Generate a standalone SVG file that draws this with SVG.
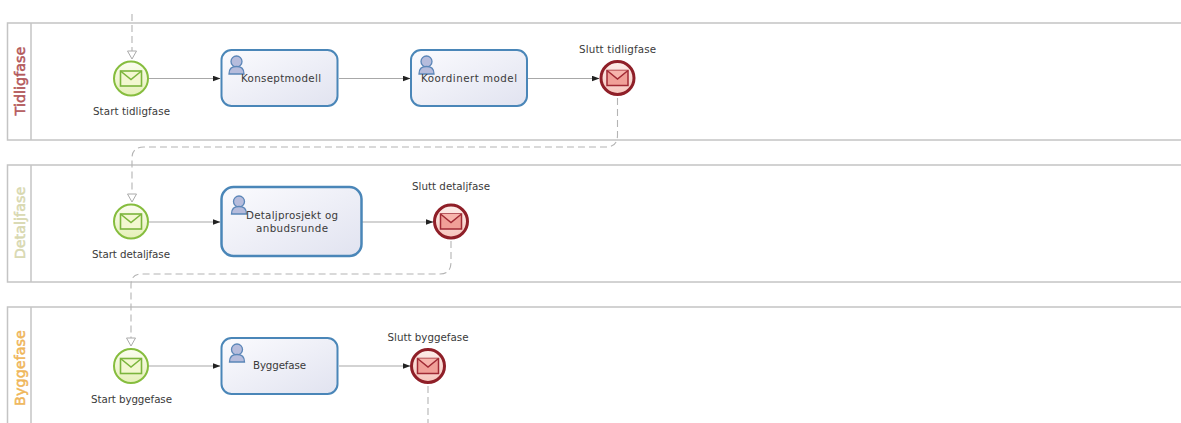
<svg xmlns="http://www.w3.org/2000/svg" width="1181" height="423" viewBox="0 0 1181 423">
<style>
text{font-family:"DejaVu Sans","Liberation Sans",sans-serif;font-size:10.300px;fill:#3a3a3a;text-anchor:middle}
.lane{fill:#fff;stroke:#c4c4c4;stroke-width:1.5}
.lt{font-size:14.400px;stroke-width:0.500}
.task{stroke:#4a86b8;stroke-width:2;fill:url(#tg)}
.seq{fill:none;stroke:#a8a8a8;stroke-width:1.100;marker-end:url(#ah)}
.msg{fill:none;stroke:#b4b4b4;stroke-width:1.100;stroke-dasharray:7 4}
.mh{fill:#fff;stroke:#aaa;stroke-width:1}
</style>
<defs>
<linearGradient id="tg" x1="0" y1="0" x2="1" y2="1"><stop offset="0" stop-color="#fbfbfe"/><stop offset="1" stop-color="#e1e3f0"/></linearGradient>
<linearGradient id="sg" x1="0" y1="0" x2="0" y2="1"><stop offset="0" stop-color="#fbfdf0"/><stop offset="1" stop-color="#e6f0b8"/></linearGradient>
<linearGradient id="eg" x1="0" y1="0" x2="0" y2="1"><stop offset="0" stop-color="#fdeeea"/><stop offset="1" stop-color="#f6c4bc"/></linearGradient>
<marker id="ah" markerWidth="8" markerHeight="6" refX="7.500" refY="3" orient="auto" markerUnits="userSpaceOnUse"><path d="M0 0L8 3L0 6Z" fill="#222"/></marker>
<g id="user"><circle cx="0" cy="-3.500" r="5.500" fill="#b6bcdc" stroke="#5b86b8" stroke-width="1.300"/><path d="M-7.500 9C-7.500 3 -4 1.500 0 1.500C4 1.500 7.500 3 7.500 9Z" fill="#b6bcdc" stroke="#5b86b8" stroke-width="1.300"/></g>
<g id="start"><circle r="17" fill="url(#sg)" stroke="#86bd3e" stroke-width="2"/><rect x="-10.500" y="-7.500" width="21" height="15" fill="#f3f7d0" stroke="#7cb53c" stroke-width="1.600"/><path d="M-10.500 -7.500L0 1L10.500 -7.500" fill="none" stroke="#7cb53c" stroke-width="1.600"/></g>
<g id="end"><circle r="16.500" fill="url(#eg)" stroke="#8f1f28" stroke-width="3"/><rect x="-10.500" y="-7.500" width="21" height="15" fill="#f0a098" stroke="#a02a34" stroke-width="1.500"/><path d="M-10.500 -7.500L0 1L10.500 -7.500" fill="#f6b4ac" stroke="#a02a34" stroke-width="1.500"/></g>
</defs>

<g id="lane-tidligfase"><rect class="lane" x="7.500" y="23" width="1180" height="117"/><path class="lane" d="M31 23V140"/><text class="lt" transform="translate(24.500 81) rotate(-90)" style="fill:#b3575a;stroke:#b3575a">Tidligfase</text></g>
<g id="lane-detaljfase"><rect class="lane" x="7.500" y="165" width="1180" height="117"/><path class="lane" d="M31 165V282"/><text class="lt" transform="translate(24.500 223) rotate(-90)" style="fill:#d8d8b0;stroke:#d8d8b0">Detaljfase</text></g>
<g id="lane-byggefase"><rect class="lane" x="7.500" y="307" width="1180" height="130"/><path class="lane" d="M31 307V437"/><text class="lt" transform="translate(24.500 368) rotate(-90)" style="fill:#efb65a;stroke:#efb65a">Byggefase</text></g>

<g id="connectors">
<path class="seq" d="M149 78.500H220"/>
<path class="seq" d="M339 78.500H410"/>
<path class="seq" d="M528 78.500H599"/>
<path class="seq" d="M149 222H220"/>
<path class="seq" d="M362 222H433"/>
<path class="seq" d="M149 366H220"/>
<path class="seq" d="M339 366H410"/>
<path class="msg" d="M132 14V51"/><path class="mh" d="M127.500 51H136.500L132 59Z"/>
<path class="msg" d="M617.500 98V135Q617.500 147 606 147H144Q132 147 132 158V193"/><path class="mh" d="M127.500 194H136.500L132 202Z"/>
<path class="msg" d="M451 241V262Q451 274 440 274H141Q131 274 131 285V338"/><path class="mh" d="M126.500 338H135.500L131 346Z"/>
<path class="msg" d="M428 386V423"/>
</g>

<g id="start-tidligfase"><use href="#start" x="131" y="78.500"/><text x="131.500" y="114.500" textLength="77">Start tidligfase</text></g>
<g id="task-konseptmodell"><rect class="task" x="221.500" y="50" width="116" height="56" rx="10"/><use href="#user" x="236.500" y="65"/><text x="281" y="82" textLength="80">Konseptmodell</text></g>
<g id="task-koordinert"><rect class="task" x="411" y="50" width="116" height="56" rx="10"/><use href="#user" x="426.500" y="65"/><text x="469" y="82" textLength="96">Koordinert model</text></g>
<g id="end-tidligfase"><use href="#end" x="617.500" y="78"/><text x="617.500" y="53" textLength="77">Slutt tidligfase</text></g>

<g id="start-detaljfase"><use href="#start" x="131" y="221.500"/><text x="131" y="258" textLength="78">Start detaljfase</text></g>
<g id="task-detaljprosjekt"><rect class="task" style="stroke-width:2.500" x="221.500" y="187" width="140" height="69" rx="12"/><use href="#user" x="239" y="205"/><text x="292" y="219" textLength="92">Detaljprosjekt og</text><text x="292" y="232" textLength="72">anbudsrunde</text></g>
<g id="end-detaljfase"><use href="#end" x="451" y="221.500"/><text x="451" y="190" textLength="78">Slutt detaljfase</text></g>

<g id="start-byggefase"><use href="#start" x="131" y="366"/><text x="131.500" y="402.500" textLength="81">Start byggefase</text></g>
<g id="task-byggefase"><rect class="task" x="221.500" y="338" width="116" height="56" rx="10"/><use href="#user" x="237" y="353"/><text x="279.500" y="369" textLength="53">Byggefase</text></g>
<g id="end-byggefase"><use href="#end" x="428" y="366"/><text x="428" y="341" textLength="81">Slutt byggefase</text></g>
</svg>
